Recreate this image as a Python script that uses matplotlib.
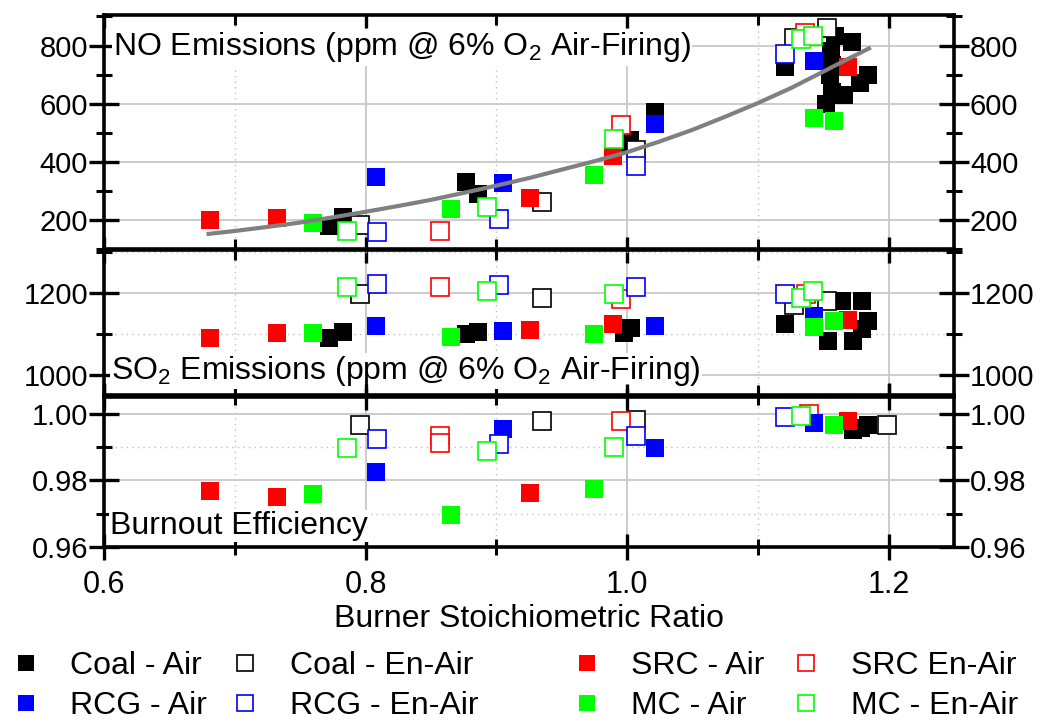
import numpy as np
import matplotlib
matplotlib.use('Agg')
import matplotlib.pyplot as plt
from matplotlib.lines import Line2D
from matplotlib.ticker import MultipleLocator

plt.rcParams['font.family'] = ['Liberation Sans', 'DejaVu Sans']
plt.rcParams['mathtext.fontset'] = 'custom'
plt.rcParams['mathtext.rm'] = 'Liberation Sans'
plt.rcParams['mathtext.it'] = 'Liberation Sans'

# NO emissions (ppm) vs burner stoichiometric ratio, (x, y) pairs
no_coal_air = [(0.772, 179), (0.783, 210), (0.877, 332), (0.886, 289), (0.997, 460), (1.002, 474),
               (1.021, 570), (1.121, 725), (1.159, 832), (1.172, 813), (1.156, 780), (1.157, 734),
               (1.155, 699), (1.184, 700), (1.178, 672), (1.157, 640), (1.166, 630), (1.152, 600)]
no_coal_en = [(0.796, 183), (0.935, 260), (1.007, 442), (1.128, 827), (1.153, 861)]
no_src_air = [(0.681, 200), (0.732, 207), (0.926, 275), (0.989, 420), (1.169, 725)]
no_src_en = [(0.857, 163), (0.995, 528), (1.136, 844)]
no_rcg_air = [(0.808, 349), (0.905, 326), (1.021, 529), (1.143, 748)]
no_rcg_en = [(0.809, 158), (0.902, 203), (1.007, 387), (1.121, 771)]
no_mc_air = [(0.760, 191), (0.865, 239), (0.975, 353), (1.143, 549), (1.158, 540)]
no_mc_en = [(0.786, 162), (0.893, 245), (0.990, 478), (1.133, 821), (1.142, 832)]

# grey trend curve through the NO data
trend_x = [0.68, 0.70, 0.725, 0.75, 0.775, 0.80, 0.825, 0.85, 0.875, 0.90, 0.925, 0.95,
           0.975, 1.00, 1.025, 1.05, 1.075, 1.10, 1.125, 1.15, 1.165, 1.185]
trend_y = [152, 162, 176, 191, 209, 228, 248, 269, 293, 318, 344, 373,
           402, 433, 470, 510, 555, 602, 653, 710, 745, 790]

# SO2 emissions (ppm)
so2_coal_air = [(0.772, 1090), (0.783, 1105), (0.877, 1100), (0.886, 1106), (0.998, 1104), (1.003, 1114),
                (1.121, 1126), (1.164, 1181), (1.180, 1182), (1.184, 1132), (1.180, 1112), (1.154, 1084),
                (1.173, 1084)]
so2_coal_en = [(0.796, 1199), (0.935, 1187), (1.128, 1171), (1.153, 1181)]
so2_src_air = [(0.681, 1090), (0.732, 1103), (0.926, 1110), (0.989, 1124), (1.169, 1134)]
so2_src_en = [(0.857, 1214), (0.995, 1185), (1.137, 1198)]
so2_rcg_air = [(0.808, 1120), (0.905, 1108), (1.021, 1119), (1.143, 1145)]
so2_rcg_en = [(0.809, 1222), (0.902, 1219), (1.007, 1214), (1.121, 1198)]
so2_mc_air = [(0.760, 1102), (0.865, 1093), (0.975, 1100), (1.143, 1118), (1.158, 1132)]
so2_mc_en = [(0.786, 1214), (0.893, 1206), (0.990, 1198), (1.133, 1188), (1.142, 1204)]

# burnout efficiency
bo_coal_air = [(1.173, 0.9950), (1.179, 0.9957), (1.184, 0.9965)]
bo_coal_en = [(0.796, 0.9965), (0.935, 0.9977), (1.007, 0.9980), (1.199, 0.9967)]
bo_src_air = [(0.681, 0.9768), (0.732, 0.9751), (0.926, 0.9763), (1.169, 0.9977)]
bo_src_en = [(0.857, 0.9932), (0.857, 0.9911), (0.995, 0.9977), (1.139, 0.9999)]
bo_rcg_air = [(0.808, 0.9825), (0.905, 0.9954), (1.021, 0.9898), (1.143, 0.9972)]
bo_rcg_en = [(0.809, 0.9924), (0.902, 0.9910), (1.007, 0.9934), (1.121, 0.9989)]
bo_mc_air = [(0.760, 0.9759), (0.865, 0.9696), (0.975, 0.9775), (1.158, 0.9967)]
bo_mc_en = [(0.786, 0.9896), (0.893, 0.9887), (0.990, 0.9899), (1.133, 0.9992)]

labels = ['Coal - Air', 'Coal - En-Air', 'SRC - Air', 'SRC En-Air',
          'RCG - Air', 'RCG - En-Air', 'MC - Air', 'MC - En-Air']
colors = ['#000000', '#000000', '#ff0000', '#ff0000', '#0000ff', '#0000ff', '#00ff00', '#00ff00']
filled = [True, False, True, False, True, False, True, False]

no_sets = [no_coal_air, no_coal_en, no_src_air, no_src_en, no_rcg_air, no_rcg_en, no_mc_air, no_mc_en]
so2_sets = [so2_coal_air, so2_coal_en, so2_src_air, so2_src_en, so2_rcg_air, so2_rcg_en, so2_mc_air, so2_mc_en]
bo_sets = [bo_coal_air, bo_coal_en, bo_src_air, bo_src_en, bo_rcg_air, bo_rcg_en, bo_mc_air, bo_mc_en]

FS = 21     # tick labels
FT = 23     # panel titles, axis label, legend
W, H = 1057, 722
fig = plt.figure(figsize=(W / 100, H / 100), dpi=100)


def px_axes(top, bottom, left=104, right=954):
    return fig.add_axes([left / W, 1 - bottom / H, (right - left) / W, (bottom - top) / H])


ax_no = px_axes(15, 249)
ax_so2 = px_axes(250, 395)
ax_bo = px_axes(397, 547)


def draw(ax, sets):
    for pts, c, f in zip(sets, colors, filled):
        xy = np.array(pts)
        ax.plot(xy[:, 0], xy[:, 1], ls='none', marker='s', ms=12.5,
                mfc=c if f else 'white', mec=c, mew=0 if f else 1.2, zorder=3)


draw(ax_no, no_sets)
draw(ax_so2, so2_sets)
draw(ax_bo, bo_sets)
ax_no.plot(trend_x, trend_y, color='#808080', lw=3, zorder=4, solid_joinstyle='round')

ax_no.set_ylim(100, 905)
ax_no.yaxis.set_major_locator(MultipleLocator(200))
ax_no.yaxis.set_minor_locator(MultipleLocator(100))
ax_so2.set_ylim(952, 1305)
ax_so2.yaxis.set_major_locator(MultipleLocator(200))
ax_so2.yaxis.set_minor_locator(MultipleLocator(100))
ax_bo.set_ylim(0.96, 1.005)
ax_bo.yaxis.set_major_locator(MultipleLocator(0.02))
ax_bo.yaxis.set_minor_locator(MultipleLocator(0.01))
ax_bo.yaxis.set_major_formatter(plt.FormatStrFormatter('%.2f'))

for ax in (ax_no, ax_so2, ax_bo):
    ax.set_xlim(0.6, 1.25)
    ax.xaxis.set_major_locator(MultipleLocator(0.2))
    ax.xaxis.set_minor_locator(MultipleLocator(0.1))
    for s in ax.spines.values():
        s.set_linewidth(2.6)
    ax.grid(which='major', color='#c8c8c8', lw=1.3, zorder=0)
    ax.grid(which='minor', axis='x', color='#c0c0c0', lw=1, ls=(0, (1, 3)), zorder=0)
    if ax is not ax_no:
        ax.grid(which='minor', axis='y', color='#c0c0c0', lw=1, ls=(0, (1, 3)), zorder=0)
    ax.set_axisbelow(True)
    ax.tick_params(axis='y', which='major', direction='inout', length=21, width=2.4,
                   left=True, right=True, labelleft=True, labelright=True, labelsize=FS, pad=1)
    ax.tick_params(axis='y', which='minor', direction='inout', length=11, width=2.2,
                   left=True, right=True)
    ax.tick_params(axis='x', which='major', direction='in', length=9, width=2.4,
                   top=True, bottom=True, labelbottom=False)
    ax.tick_params(axis='x', which='minor', direction='in', length=7, width=2.2,
                   top=True, bottom=True)

ax_bo.tick_params(axis='x', which='major', direction='inout', length=19, labelbottom=True,
                  labelsize=22, pad=7)
ax_bo.tick_params(axis='x', which='minor', direction='inout', length=12)
ax_bo.set_xlabel('Burner Stoichiometric Ratio', fontsize=FT, labelpad=3)

box = dict(facecolor='white', edgecolor='none', pad=1)
ax_no.text(0.011, 0.862, 'NO Emissions (ppm @ 6% O$_2$ Air-Firing)', transform=ax_no.transAxes,
           fontsize=FT, ha='left', va='center', bbox=box, zorder=2)
ax_so2.text(0.008, 0.165, 'SO$_2$ Emissions (ppm @ 6% O$_2$ Air-Firing)', transform=ax_so2.transAxes,
            fontsize=FT, ha='left', va='center', bbox=box, zorder=2)
ax_bo.text(0.007, 0.14, 'Burnout Efficiency', transform=ax_bo.transAxes,
           fontsize=FT, ha='left', va='center', bbox=box, zorder=2)

handles = [Line2D([], [], ls='none', marker='s', ms=11, mfc=c if f else 'white', mec=c,
                  mew=0 if f else 1.2) for c, f in zip(colors, filled)]
left_idx = [0, 4, 1, 5]
right_idx = [2, 6, 3, 7]
for idx, x0, cs in ((left_idx, 0.0, 0.7), (right_idx, 561 / W, 0.8)):
    fig.legend([handles[i] for i in idx], [labels[i] for i in idx], ncol=2,
               loc='center left', bbox_to_anchor=(x0, 1 - 686 / H), frameon=False,
               fontsize=FT, handlelength=1.0, handletextpad=0.9, columnspacing=cs,
               labelspacing=0.3, borderaxespad=0, borderpad=0.3)

fig.savefig('out.png', dpi=100)
